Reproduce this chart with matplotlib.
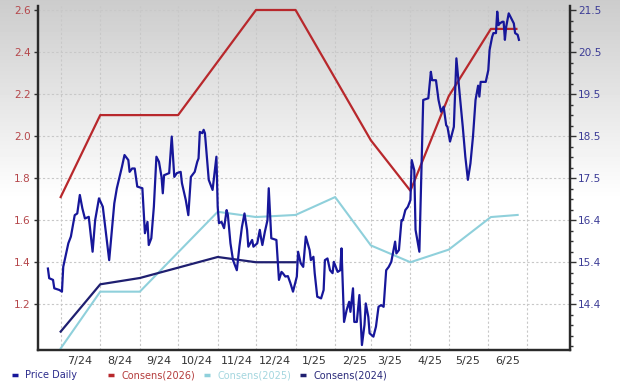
import matplotlib
matplotlib.use('Agg')
import matplotlib.pyplot as plt
import matplotlib.dates as mdates
from matplotlib.lines import Line2D
from matplotlib.ticker import FixedLocator, AutoMinorLocator
import numpy as np
import pandas as pd

# daily price (right axis, $)
price_dates = [
    '2024-06-21', '2024-06-22', '2024-06-25', '2024-06-26', '2024-06-30',
    '2024-07-02', '2024-07-03', '2024-07-07', '2024-07-09', '2024-07-12', '2024-07-14', '2024-07-16',
    '2024-07-18', '2024-07-20', '2024-07-23', '2024-07-26', '2024-07-28', '2024-07-31',
    '2024-08-03', '2024-08-08', '2024-08-12', '2024-08-14', '2024-08-18', '2024-08-20', '2024-08-23',
    '2024-08-24', '2024-08-26', '2024-08-28', '2024-08-30',
    '2024-09-03', '2024-09-05', '2024-09-07', '2024-09-08', '2024-09-10', '2024-09-12', '2024-09-14',
    '2024-09-16', '2024-09-18', '2024-09-19', '2024-09-20', '2024-09-24', '2024-09-26', '2024-09-28',
    '2024-09-30',
    '2024-10-03', '2024-10-04', '2024-10-07', '2024-10-09', '2024-10-11', '2024-10-14', '2024-10-16',
    '2024-10-17', '2024-10-18', '2024-10-20', '2024-10-21', '2024-10-22', '2024-10-25', '2024-10-28',
    '2024-10-31',
    '2024-11-01', '2024-11-02', '2024-11-04', '2024-11-06', '2024-11-08', '2024-11-09', '2024-11-11',
    '2024-11-13', '2024-11-16', '2024-11-18', '2024-11-20', '2024-11-22', '2024-11-24', '2024-11-25',
    '2024-11-28', '2024-11-29',
    '2024-12-02', '2024-12-04', '2024-12-05', '2024-12-06', '2024-12-08', '2024-12-10', '2024-12-11',
    '2024-12-13', '2024-12-17', '2024-12-19', '2024-12-21', '2024-12-22', '2024-12-24', '2024-12-26',
    '2024-12-28', '2024-12-30',
    '2025-01-02', '2025-01-03', '2025-01-05', '2025-01-07', '2025-01-09', '2025-01-12', '2025-01-13',
    '2025-01-15', '2025-01-16', '2025-01-18', '2025-01-21', '2025-01-23', '2025-01-24', '2025-01-26',
    '2025-01-28', '2025-01-30', '2025-01-31',
    '2025-02-03', '2025-02-05', '2025-02-06', '2025-02-07', '2025-02-08', '2025-02-10', '2025-02-12',
    '2025-02-13', '2025-02-15', '2025-02-16', '2025-02-18', '2025-02-20', '2025-02-21', '2025-02-22',
    '2025-02-24', '2025-02-25', '2025-02-27', '2025-02-28',
    '2025-03-03', '2025-03-05', '2025-03-07', '2025-03-09', '2025-03-11', '2025-03-13', '2025-03-15',
    '2025-03-17', '2025-03-20', '2025-03-21', '2025-03-23', '2025-03-25', '2025-03-26', '2025-03-28',
    '2025-03-30',
    '2025-04-01', '2025-04-02', '2025-04-04', '2025-04-05', '2025-04-08', '2025-04-11', '2025-04-15',
    '2025-04-17', '2025-04-18', '2025-04-21', '2025-04-23', '2025-04-25', '2025-04-27', '2025-04-29',
    '2025-04-30',
    '2025-05-02', '2025-05-05', '2025-05-07', '2025-05-09', '2025-05-10', '2025-05-12', '2025-05-14',
    '2025-05-16', '2025-05-18', '2025-05-20', '2025-05-22', '2025-05-24', '2025-05-25', '2025-05-26',
    '2025-05-30',
    '2025-06-01', '2025-06-02', '2025-06-04', '2025-06-05', '2025-06-07', '2025-06-08', '2025-06-09',
    '2025-06-10', '2025-06-12', '2025-06-13', '2025-06-14', '2025-06-15', '2025-06-16', '2025-06-17',
    '2025-06-19', '2025-06-21', '2025-06-22', '2025-06-24', '2025-06-25',
]
price_vals = [
    15.30, 15.07, 15.03, 14.83, 14.79,
    14.75, 15.34, 15.90, 16.06, 16.57, 16.61, 17.05,
    16.73, 16.49, 16.53, 15.70, 16.45, 16.97,
    16.77, 15.50, 16.85, 17.21, 17.72, 18.00, 17.88,
    17.60, 17.68, 17.68, 17.25,
    17.21, 16.14, 16.41, 15.86, 16.02, 16.77, 17.96,
    17.84, 17.48, 17.09, 17.52, 17.57, 18.44, 17.48,
    17.57,
    17.60, 17.33, 16.93, 16.57, 17.48, 17.60, 17.84,
    17.92, 18.55, 18.52, 18.60, 18.52, 17.41, 17.17,
    17.96,
    16.77, 16.38, 16.41, 16.26, 16.69, 16.57, 15.90,
    15.50, 15.26, 15.82, 16.29, 16.61, 16.22, 15.82,
    15.98, 15.82,
    15.90, 16.22, 16.02, 15.86, 16.18, 16.45, 17.21,
    16.02, 15.98, 15.03, 15.22, 15.19, 15.11, 15.12,
    14.95, 14.75,
    15.11, 15.70, 15.43, 15.34, 16.06, 15.74, 15.50,
    15.58, 15.19, 14.63, 14.59, 14.79, 15.50, 15.54,
    15.26, 15.19, 15.46,
    15.22, 15.26, 15.78, 14.87, 14.03, 14.31, 14.51,
    14.27, 14.83, 14.03, 14.03, 14.67, 14.08, 13.48,
    13.96, 14.47, 14.15, 13.76,
    13.68, 13.92, 14.39, 14.43, 14.39, 15.26, 15.34,
    15.46, 15.94, 15.66, 15.74, 16.45, 16.45, 16.69,
    16.77,
    16.93, 17.88, 17.64, 16.22, 15.70, 19.31, 19.35,
    19.98, 19.78, 19.78, 19.31, 19.03, 19.15, 18.71,
    18.67,
    18.32, 18.67, 20.30, 19.63, 19.31, 18.67, 17.96,
    17.41, 17.80, 18.44, 19.31, 19.65, 19.39, 19.74,
    19.74,
    20.02, 20.50, 20.81, 20.90, 20.90, 21.41, 21.09,
    21.13, 21.17, 21.17, 20.74, 21.05, 21.21, 21.37,
    21.25, 21.13, 20.90, 20.86, 20.74,
]

# consensus EPS (left axis)
c2026_dates = ['2024-07-01', '2024-08-01', '2024-10-01', '2024-12-01', '2025-01-01', '2025-03-01',
               '2025-04-01', '2025-05-01', '2025-06-03', '2025-06-23']
c2026_vals = [1.71, 2.10, 2.10, 2.60, 2.60, 1.98, 1.74, 2.19, 2.51, 2.51]

c2025_dates = ['2024-07-01', '2024-08-01', '2024-09-01', '2024-11-01', '2024-12-01', '2025-01-01',
               '2025-02-01', '2025-03-01', '2025-04-01', '2025-05-01', '2025-06-03', '2025-06-24']
c2025_vals = [0.99, 1.26, 1.26, 1.64, 1.615, 1.625, 1.71, 1.48, 1.40, 1.46, 1.615, 1.625]

c2024_dates = ['2024-07-01', '2024-08-01', '2024-09-01', '2024-11-01', '2024-12-01', '2025-01-01']
c2024_vals = [1.07, 1.295, 1.325, 1.425, 1.40, 1.40]

left_ticks = [1.2, 1.4, 1.6, 1.8, 2.0, 2.2, 2.4, 2.6]
right_ticks = [14.45, 15.45, 16.45, 17.45, 18.45, 19.45, 20.45, 21.45]
right_labels = ['14.4', '15.4', '16.4', '17.5', '18.5', '19.5', '20.5', '21.5']

c_price = '#17179a'
c_26 = '#b8282c'
c_25 = '#8fd0db'
c_24 = '#1f1f70'

W, H = 620, 385
fig = plt.figure(figsize=(W / 100, H / 100), dpi=100)

# gray-to-white background
bg = fig.add_axes([0, 0, 1, 1], zorder=-10)
grad = np.concatenate([np.linspace(0.80, 1.0, 200), np.ones(185)])[:, None]
bg.imshow(grad, aspect='auto', cmap='gray', vmin=0, vmax=1, extent=[0, 1, 0, 1])
bg.axis('off')

ax = fig.add_axes([37.7 / W, 1 - 350 / H, (570 - 37.7) / W, (350 - 6) / H])
ax.set_facecolor('none')
ax2 = ax.twinx()

ax.plot(pd.to_datetime(c2025_dates), c2025_vals, color=c_25, lw=1.5, zorder=3)
ax.plot(pd.to_datetime(c2024_dates), c2024_vals, color=c_24, lw=1.6, zorder=3)
ax.plot(pd.to_datetime(c2026_dates), c2026_vals, color=c_26, lw=1.6, zorder=4)
ax2.plot(pd.to_datetime(price_dates), price_vals, color=c_price, lw=1.6, zorder=3)

ax.set_xlim(pd.Timestamp('2024-06-13'), pd.Timestamp('2025-08-04'))
ax.set_ylim(0.9825, 2.619)
ax2.set_ylim(13.3625, 21.545)

month_starts = pd.date_range('2024-07-01', '2025-07-01', freq='MS')
mid_months = pd.date_range('2024-07-01', '2025-06-01', freq='MS') + pd.Timedelta(days=15)
ax.xaxis.set_major_locator(FixedLocator(mdates.date2num(mid_months)))
ax.set_xticklabels([f'{d.month}/{d:%y}' for d in mid_months])
ax.xaxis.set_minor_locator(FixedLocator(mdates.date2num(month_starts)))
ax.tick_params(axis='x', which='both', length=0, labelsize=8, labelcolor='#333333', pad=4)

ax.set_yticks(left_ticks)
ax.set_yticklabels([f'{v:.1f}' for v in left_ticks])
ax.tick_params(axis='y', length=3, width=1, color='#333333', labelsize=7.6,
               labelcolor='#b5474b', pad=2)

ax2.set_yticks(right_ticks)
ax2.set_yticklabels(right_labels)
ax2.yaxis.set_minor_locator(AutoMinorLocator(4))
ax2.tick_params(axis='y', which='major', length=4, width=1, color='#333333', labelsize=7.6,
                labelcolor='#3c3c96', pad=2)
ax2.tick_params(axis='y', which='minor', length=2, width=1, color='#333333')

grid_kw = dict(color='#c8c8c8', lw=0.8, ls=(0, (2, 2)))
ax.grid(True, axis='y', which='major', **grid_kw)
ax.grid(True, axis='x', which='minor', **grid_kw)
ax.set_axisbelow(True)

for a in (ax, ax2):
    a.spines['top'].set_visible(False)
    for s in ('left', 'right', 'bottom'):
        a.spines[s].set_color('#2a2a2a')
        a.spines[s].set_linewidth(1.6)

# legend, fixed-width columns along the bottom
legend_items = [('Price Daily', c_price, '#2b2b8c'),
                ('Consens(2026)', c_26, '#b43c3c'),
                ('Consens(2025)', c_25, '#a4d6df'),
                ('Consens(2024)', c_24, '#2a2a7a')]
ly = 1 - 375 / H
for i, (label, lc, tc) in enumerate(legend_items):
    x0 = (12 + 96 * i) / W
    fig.add_artist(Line2D([x0, x0 + 6 / W], [ly, ly], transform=fig.transFigure,
                          color=lc, lw=2.5, solid_capstyle='butt'))
    fig.text(x0 + 13 / W, ly, label, color=tc, fontsize=7, va='center', ha='left')

fig.savefig('out.png', dpi=100)
